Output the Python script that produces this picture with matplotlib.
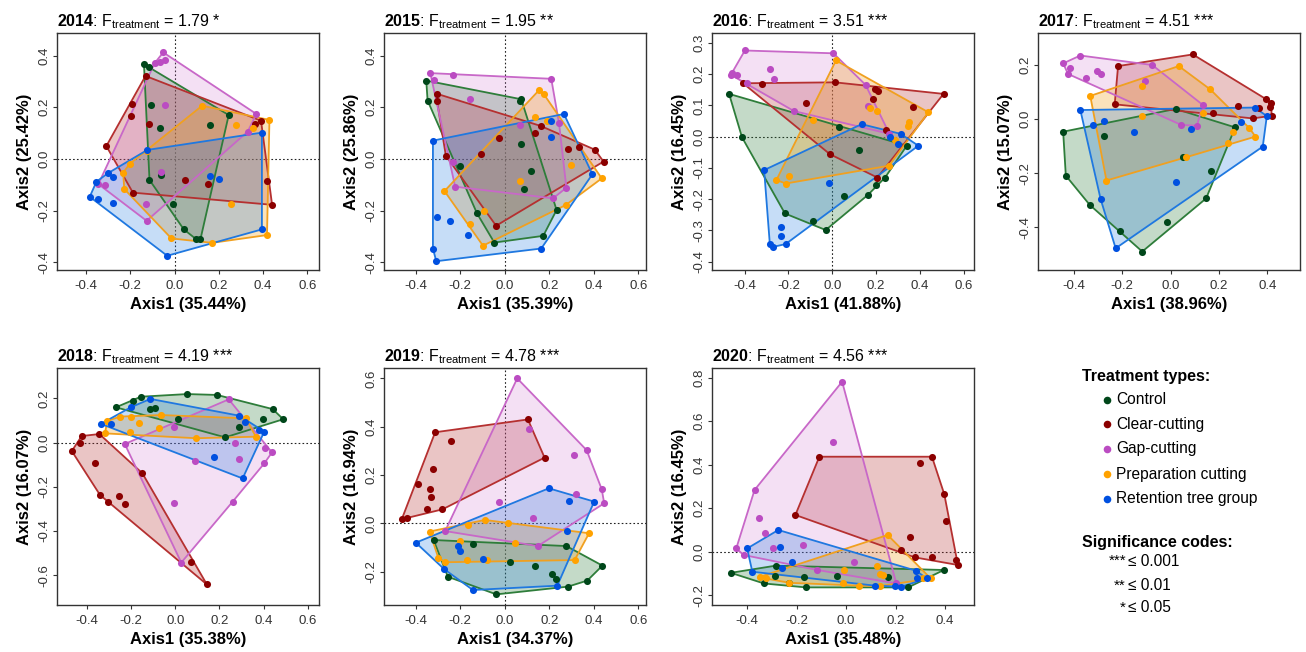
import numpy as np
import matplotlib
matplotlib.use('Agg')
import matplotlib.pyplot as plt
from matplotlib import font_manager

# pick a narrow sans if it is there, else plain Liberation Sans
names = {f.name for f in font_manager.fontManager.ttflist}
base = 'Liberation Sans Narrow' if 'Liberation Sans Narrow' in names else 'Liberation Sans'
plt.rcParams['font.family'] = [base, 'Liberation Sans', 'DejaVu Sans']
plt.rcParams['mathtext.fontset'] = 'custom'
plt.rcParams['mathtext.rm'] = base
plt.rcParams['mathtext.bf'] = base + ':bold'
plt.rcParams['mathtext.it'] = base + ':italic'

# ---- data (Axis1, Axis2 scores) ----
years = [2014, 2015, 2016, 2017, 2018, 2019, 2020]
f_values = [1.79, 1.95, 3.51, 4.51, 4.19, 4.78, 4.56]
stars = ['*', '**', '***', '***', '***', '***', '***']
axis1_pct = [35.44, 35.39, 41.88, 38.96, 35.38, 34.37, 35.48]
axis2_pct = [25.42, 25.86, 16.45, 15.07, 16.07, 16.94, 16.45]
treatments = ['Control', 'Clear-cutting', 'Gap-cutting', 'Preparation cutting', 'Retention tree group']

ctrl_14 = [(-0.138, 0.366), (-0.116, 0.354), (-0.108, 0.209), (-0.066, 0.121), (-0.113, -0.081), (-0.062, -0.062),
           (-0.008, -0.175), (0.042, -0.272), (0.098, -0.310), (0.117, -0.311), (0.245, 0.170), (0.162, 0.132)]
clear_14 = [(-0.131, 0.321), (-0.194, 0.212), (-0.195, 0.168), (-0.308, 0.050), (-0.113, 0.135), (-0.188, -0.130),
            (0.047, -0.081), (0.152, -0.098), (0.391, 0.148), (0.362, 0.135), (0.418, -0.085), (0.441, -0.177)]
gap_14 = [(-0.051, 0.412), (-0.090, 0.370), (-0.066, 0.374), (-0.041, 0.383), (-0.041, 0.209), (0.370, 0.174),
          (0.331, 0.106), (-0.344, -0.097), (-0.314, -0.101), (-0.131, -0.174), (-0.126, -0.239), (-0.062, -0.052)]
prep_14 = [(0.125, 0.206), (0.278, 0.133), (0.355, 0.121), (0.429, 0.151), (0.418, -0.294), (0.170, -0.324),
           (-0.014, -0.307), (-0.203, -0.019), (-0.232, -0.053), (-0.227, -0.116), (0.256, -0.175), (-0.125, 0.030)]
ret_14 = [(-0.123, 0.035), (0.395, 0.102), (0.395, -0.272), (-0.033, -0.374), (-0.383, -0.146), (-0.353, -0.088),
          (-0.346, -0.155), (-0.301, -0.055), (-0.278, -0.068), (-0.278, -0.169), (0.159, -0.065), (0.203, -0.077)]

ctrl_15 = [(-0.353, 0.303), (-0.347, 0.226), (-0.200, -0.027), (-0.125, -0.210), (-0.047, -0.323), (0.173, -0.297),
           (0.233, -0.197), (0.068, 0.226), (0.074, 0.231), (0.075, 0.058), (0.119, -0.048), (0.086, -0.116)]
clear_15 = [(-0.305, 0.252), (-0.305, 0.226), (-0.265, 0.013), (-0.105, 0.019), (-0.024, 0.080), (0.134, 0.099),
            (0.161, 0.128), (0.284, 0.039), (0.334, 0.048), (0.405, 0.036), (0.444, -0.010), (-0.039, -0.258)]
gap_15 = [(-0.335, 0.332), (-0.320, 0.306), (-0.233, 0.323), (-0.158, 0.231), (0.209, 0.310), (0.244, 0.138),
          (0.068, 0.132), (-0.233, -0.013), (-0.223, -0.107), (0.217, -0.152), (0.277, -0.111)]
prep_15 = [(0.153, 0.265), (0.176, 0.250), (0.134, 0.161), (0.191, 0.147), (0.296, -0.023), (0.436, -0.075),
           (0.274, -0.178), (0.068, -0.085), (-0.095, -0.201), (-0.098, -0.335), (-0.158, -0.252), (-0.271, -0.124)]
ret_15 = [(-0.323, 0.071), (0.266, 0.174), (0.206, 0.145), (0.206, 0.086), (0.394, -0.059), (0.164, -0.346),
          (-0.308, -0.395), (-0.323, -0.346), (-0.305, -0.226), (-0.248, -0.239), (-0.167, -0.294)]

ctrl_16 = [(-0.471, 0.137), (-0.412, -0.002), (-0.216, -0.246), (-0.090, -0.269), (-0.030, -0.299), (0.055, -0.189),
           (0.162, -0.187), (0.198, -0.155), (0.241, -0.131), (0.340, -0.029), (0.030, 0.032), (0.122, -0.043)]
clear_16 = [(-0.407, 0.171), (-0.320, 0.168), (0.012, 0.174), (-0.120, 0.109), (-0.011, -0.056), (0.195, 0.153),
            (0.210, 0.147), (0.188, 0.121), (0.367, 0.096), (0.508, 0.137), (0.244, 0.021), (0.206, -0.131)]
gap_16 = [(-0.399, 0.276), (0.005, 0.267), (-0.463, 0.198), (-0.456, 0.203), (-0.433, 0.196), (-0.282, 0.218),
          (-0.267, 0.185), (-0.387, 0.173), (-0.175, 0.082), (0.152, 0.166), (0.162, 0.098), (0.261, 0.009)]
prep_16 = [(0.017, 0.244), (0.439, 0.078), (0.352, 0.046), (0.348, 0.035), (0.172, 0.091), (0.203, 0.082),
           (-0.087, 0.053), (-0.255, -0.139), (-0.212, -0.150), (-0.198, -0.125), (0.287, -0.011), (0.259, -0.093)]
ret_16 = [(0.134, 0.040), (0.264, 0.000), (0.312, 0.009), (0.393, -0.029), (0.299, -0.024), (-0.311, -0.107),
          (-0.015, -0.147), (-0.285, -0.344), (-0.270, -0.353), (-0.213, -0.344), (-0.235, -0.288), (-0.232, -0.318)]

ctrl_17 = [(-0.444, -0.047), (-0.433, -0.209), (-0.334, -0.317), (-0.210, -0.415), (-0.117, -0.489), (-0.015, -0.379),
           (0.147, -0.293), (0.168, -0.191), (0.267, -0.031), (0.021, 0.037), (-0.275, -0.061), (0.051, -0.139)]
clear_17 = [(-0.217, 0.195), (-0.231, 0.054), (0.092, 0.238), (0.395, 0.073), (0.415, 0.060), (0.409, 0.045),
            (0.418, 0.012), (0.365, 0.042), (0.278, 0.048), (0.340, 0.002), (0.177, 0.021)]
gap_17 = [(-0.444, 0.205), (-0.373, 0.234), (-0.417, 0.187), (-0.424, 0.166), (-0.351, 0.150), (-0.304, 0.177),
          (-0.289, 0.165), (-0.076, 0.199), (-0.107, 0.141), (0.133, 0.052), (0.044, -0.022), (0.109, -0.025)]
prep_17 = [(-0.332, 0.085), (-0.117, 0.122), (0.034, 0.195), (0.164, 0.109), (0.133, 0.023), (-0.117, 0.012),
           (0.326, -0.034), (0.351, -0.065), (0.257, -0.047), (0.237, -0.090), (0.065, -0.141), (-0.265, -0.227)]
ret_17 = [(-0.373, 0.033), (-0.320, -0.022), (-0.276, -0.007), (-0.151, -0.047), (0.347, 0.042), (0.398, 0.011),
          (0.381, -0.102), (0.292, -0.010), (0.085, -0.038), (0.023, -0.231), (-0.289, -0.296), (-0.227, -0.477)]

ctrl_18 = [(-0.269, 0.160), (-0.191, 0.189), (-0.156, 0.208), (-0.113, 0.151), (-0.093, 0.155), (0.054, 0.220),
           (0.189, 0.216), (0.441, 0.152), (0.489, 0.106), (0.398, 0.106), (0.287, 0.072), (0.226, 0.024), (0.012, 0.106)]
clear_18 = [(-0.469, -0.038), (-0.432, -0.003), (-0.424, 0.030), (-0.344, 0.039), (-0.364, -0.094), (-0.149, -0.139),
            (-0.341, -0.237), (-0.304, -0.267), (-0.256, -0.240), (-0.226, -0.278), (0.069, -0.542), (0.143, -0.642)]
gap_18 = [(-0.229, -0.006), (-0.008, 0.072), (0.242, 0.196), (0.272, 0.000), (0.290, -0.075), (0.406, -0.026),
          (0.438, -0.044), (0.403, -0.094), (0.260, -0.267), (-0.006, -0.272), (0.090, -0.082), (0.027, -0.543)]
prep_18 = [(-0.308, 0.098), (-0.251, 0.118), (-0.202, 0.115), (-0.164, 0.091), (-0.063, 0.125), (-0.074, 0.065),
           (-0.206, 0.050), (0.095, 0.020), (0.320, 0.110), (0.365, 0.027), (-0.319, 0.042)]
ret_18 = [(-0.337, 0.085), (-0.292, 0.085), (-0.202, 0.160), (-0.113, 0.198), (0.290, 0.122), (0.317, 0.095),
          (0.380, 0.057), (0.403, 0.050), (0.305, -0.162), (0.177, -0.066)]

ctrl_19 = [(-0.320, -0.069), (-0.143, -0.087), (-0.256, -0.221), (-0.038, -0.294), (0.023, -0.161), (0.138, -0.175),
           (0.211, -0.211), (0.232, -0.232), (0.284, -0.262), (0.371, -0.237), (0.439, -0.175), (0.277, -0.094)]
clear_19 = [(-0.463, 0.017), (-0.438, 0.023), (-0.313, 0.377), (-0.242, 0.341), (0.104, 0.430), (0.179, 0.272),
            (-0.323, 0.223), (-0.388, 0.163), (-0.338, 0.141), (-0.331, 0.108), (-0.350, 0.059), (-0.280, 0.058)]
gap_19 = [(0.056, 0.600), (0.111, 0.389), (0.368, 0.303), (0.311, 0.283), (0.436, 0.141), (0.447, 0.083),
          (0.319, 0.120), (-0.027, 0.090), (0.126, 0.023), (0.149, -0.094), (-0.268, -0.032)]
prep_19 = [(-0.338, -0.034), (-0.167, -0.007), (-0.090, 0.014), (0.014, 0.000), (0.379, -0.041), (0.314, -0.152),
           (0.048, -0.083), (-0.080, -0.152), (-0.170, -0.152), (-0.268, -0.161), (-0.298, -0.145), (-0.203, -0.073)]
ret_19 = [(-0.400, -0.080), (-0.272, -0.190), (-0.143, -0.276), (0.236, -0.258), (0.402, 0.090), (0.198, 0.145),
          (0.289, 0.092), (0.278, -0.032), (-0.211, -0.094), (-0.200, -0.113), (-0.099, -0.149)]

ctrl_20 = [(-0.466, -0.097), (-0.332, -0.146), (-0.286, -0.110), (-0.284, -0.064), (-0.229, -0.146), (-0.171, -0.118),
           (-0.163, -0.164), (-0.037, -0.110), (0.171, -0.115), (0.251, -0.164), (0.395, -0.084)]
clear_20 = [(-0.108, 0.437), (0.347, 0.437), (0.299, 0.406), (0.397, 0.264), (0.405, 0.141), (0.260, 0.069),
            (0.223, 0.008), (0.278, -0.026), (0.347, -0.023), (0.445, -0.038), (0.452, -0.061), (-0.205, 0.169)]
gap_20 = [(-0.016, 0.782), (-0.053, 0.503), (-0.370, 0.284), (-0.352, 0.156), (-0.329, 0.084), (-0.444, 0.015),
          (-0.414, -0.015), (-0.297, 0.018), (-0.174, 0.031), (0.032, -0.046), (0.203, -0.146), (-0.116, -0.084)]
prep_20 = [(0.168, 0.077), (0.151, -0.107), (0.137, -0.103), (0.125, -0.064), (-0.007, -0.084), (0.052, -0.156),
           (-0.012, -0.146), (0.137, -0.158), (0.342, -0.123), (0.312, -0.123), (-0.348, -0.115), (-0.325, -0.123),
           (-0.229, -0.143)]
ret_20 = [(-0.400, 0.015), (-0.274, 0.100), (-0.266, 0.023), (-0.218, -0.046), (-0.379, -0.092), (-0.260, -0.077),
          (0.116, -0.156), (0.196, -0.156), (0.223, -0.161), (0.282, -0.087), (0.288, -0.123), (0.326, -0.123)]

panels = [
    [ctrl_14, clear_14, gap_14, prep_14, ret_14],
    [ctrl_15, clear_15, gap_15, prep_15, ret_15],
    [ctrl_16, clear_16, gap_16, prep_16, ret_16],
    [ctrl_17, clear_17, gap_17, prep_17, ret_17],
    [ctrl_18, clear_18, gap_18, prep_18, ret_18],
    [ctrl_19, clear_19, gap_19, prep_19, ret_19],
    [ctrl_20, clear_20, gap_20, prep_20, ret_20],
]

# ---- styling / layout ----
point_cols = ['#00471a', '#8b0000', '#bb4cc2', '#ffa200', '#0050e0']
hull_cols = ['#2e7d3a', '#b53030', '#c868c8', '#f0a020', '#1f78e0']
fill_alpha = [0.28, 0.28, 0.2, 0.3, 0.25]

W, H = 1306, 652
lefts = [57, 384, 712, 1038, 57, 384, 712]
tops = [33, 33, 33, 33, 368, 368, 368]
pw, ph = 262, 237
xlims = [(-0.531, 0.653), (-0.543, 0.635), (-0.549, 0.647), (-0.548, 0.535),
         (-0.536, 0.651), (-0.543, 0.635), (-0.542, 0.517)]
ylims = [(-0.429, 0.487), (-0.429, 0.487), (-0.427, 0.332), (-0.557, 0.317),
         (-0.735, 0.338), (-0.338, 0.643), (-0.245, 0.845)]
yticks = [np.arange(-0.4, 0.41, 0.2), np.arange(-0.4, 0.41, 0.2), np.arange(-0.4, 0.31, 0.1),
          np.arange(-0.4, 0.21, 0.2), np.arange(-0.6, 0.21, 0.2), np.arange(-0.2, 0.61, 0.2),
          np.arange(-0.2, 0.81, 0.2)]
show_h = [True, True, True, False, True, True, True]
show_v = [True, True, True, False, False, True, False]


def convex_hull(pts):
    # monotone chain
    pts = sorted(set(pts))
    def cross(o, a, b):
        return (a[0] - o[0]) * (b[1] - o[1]) - (a[1] - o[1]) * (b[0] - o[0])
    lower = []
    for p in pts:
        while len(lower) >= 2 and cross(lower[-2], lower[-1], p) <= 0:
            lower.pop()
        lower.append(p)
    upper = []
    for p in reversed(pts):
        while len(upper) >= 2 and cross(upper[-2], upper[-1], p) <= 0:
            upper.pop()
        upper.append(p)
    return np.array(lower[:-1] + upper[:-1])


fig = plt.figure(figsize=(W / 100, H / 100), dpi=100)

for i, yr in enumerate(years):
    ax = fig.add_axes([lefts[i] / W, 1 - (tops[i] + ph) / H, pw / W, ph / H])
    groups = panels[i]
    for g, pts in enumerate(groups):
        hull = convex_hull(pts)
        ax.fill(hull[:, 0], hull[:, 1], color=hull_cols[g], alpha=fill_alpha[g], lw=0, zorder=2)
        closed = np.vstack([hull, hull[:1]])
        ax.plot(closed[:, 0], closed[:, 1], color=hull_cols[g], lw=1.3, zorder=3)
    for g, pts in enumerate(groups):
        arr = np.array(pts)
        ax.scatter(arr[:, 0], arr[:, 1], s=26, color=point_cols[g], lw=0, zorder=4)

    if show_h[i]:
        ax.axhline(0, color='#222222', ls=(0, (1.5, 2)), lw=0.8, zorder=1)
    if show_v[i]:
        ax.axvline(0, color='#222222', ls=(0, (1.5, 2)), lw=0.8, zorder=1)

    ax.set_xlim(*xlims[i])
    ax.set_ylim(*ylims[i])
    xt = [t for t in np.arange(-0.4, 0.61, 0.2) if xlims[i][0] < t < xlims[i][1]]
    ax.set_xticks(xt)
    ax.set_xticklabels(['%.1f' % t if abs(t) > 1e-9 else '0.0' for t in xt])
    yt = yticks[i]
    ax.set_yticks(yt)
    ax.set_yticklabels(['%.1f' % t if abs(t) > 1e-9 else '0.0' for t in yt])
    for lab in ax.get_yticklabels():
        lab.set_rotation(90)
        lab.set_va('center')
    ax.tick_params(axis='both', direction='out', length=3, width=0.8, color='#333333',
                   labelsize=9.5, labelcolor='#333333')
    ax.tick_params(axis='x', pad=4)
    ax.tick_params(axis='y', pad=1.5)
    for sp in ax.spines.values():
        sp.set_color('#333333')
        sp.set_linewidth(1.0)

    ax.set_xlabel('Axis1 (%.2f%%)' % axis1_pct[i], fontsize=12, fontweight='bold')
    ax.set_ylabel('Axis2 (%.2f%%)' % axis2_pct[i], fontsize=12, fontweight='bold')
    ax.xaxis.set_label_coords(0.5, -27 / ph)
    ax.yaxis.set_label_coords(-25 / pw, 0.5)

    title = r'$\mathbf{%d}$: F$_{\mathrm{treatment}}$ = %.2f %s' % (yr, f_values[i], stars[i])
    ax.set_title(title, loc='left', fontsize=11.5, pad=5)

# legend block drawn in pixel coordinates
lg = fig.add_axes([0, 0, 1, 1])
lg.set_xlim(0, W)
lg.set_ylim(H, 0)
lg.axis('off')
lg.text(1082, 376, 'Treatment types:', fontsize=11.5, fontweight='bold', va='center', ha='left')
item_y = [400, 424, 449, 474, 499]
for g, name in enumerate(treatments):
    lg.scatter([1107], [item_y[g]], s=30, color=point_cols[g], lw=0)
    lg.text(1116, item_y[g], name, fontsize=11.2, va='center', ha='left')
lg.text(1082, 542, 'Significance codes:', fontsize=11.5, fontweight='bold', va='center', ha='left')
code_marks = ['***', '**', '*']
code_vals = ['0.001', '0.01', '0.05']
code_y = [561, 586, 608]
for k in range(3):
    lg.text(1126, code_y[k], code_marks[k], fontsize=11, va='center', ha='right')
    lg.text(1128, code_y[k], '\u2264 ' + code_vals[k], fontsize=11.2, va='center', ha='left')

fig.savefig('out.png', dpi=100)
